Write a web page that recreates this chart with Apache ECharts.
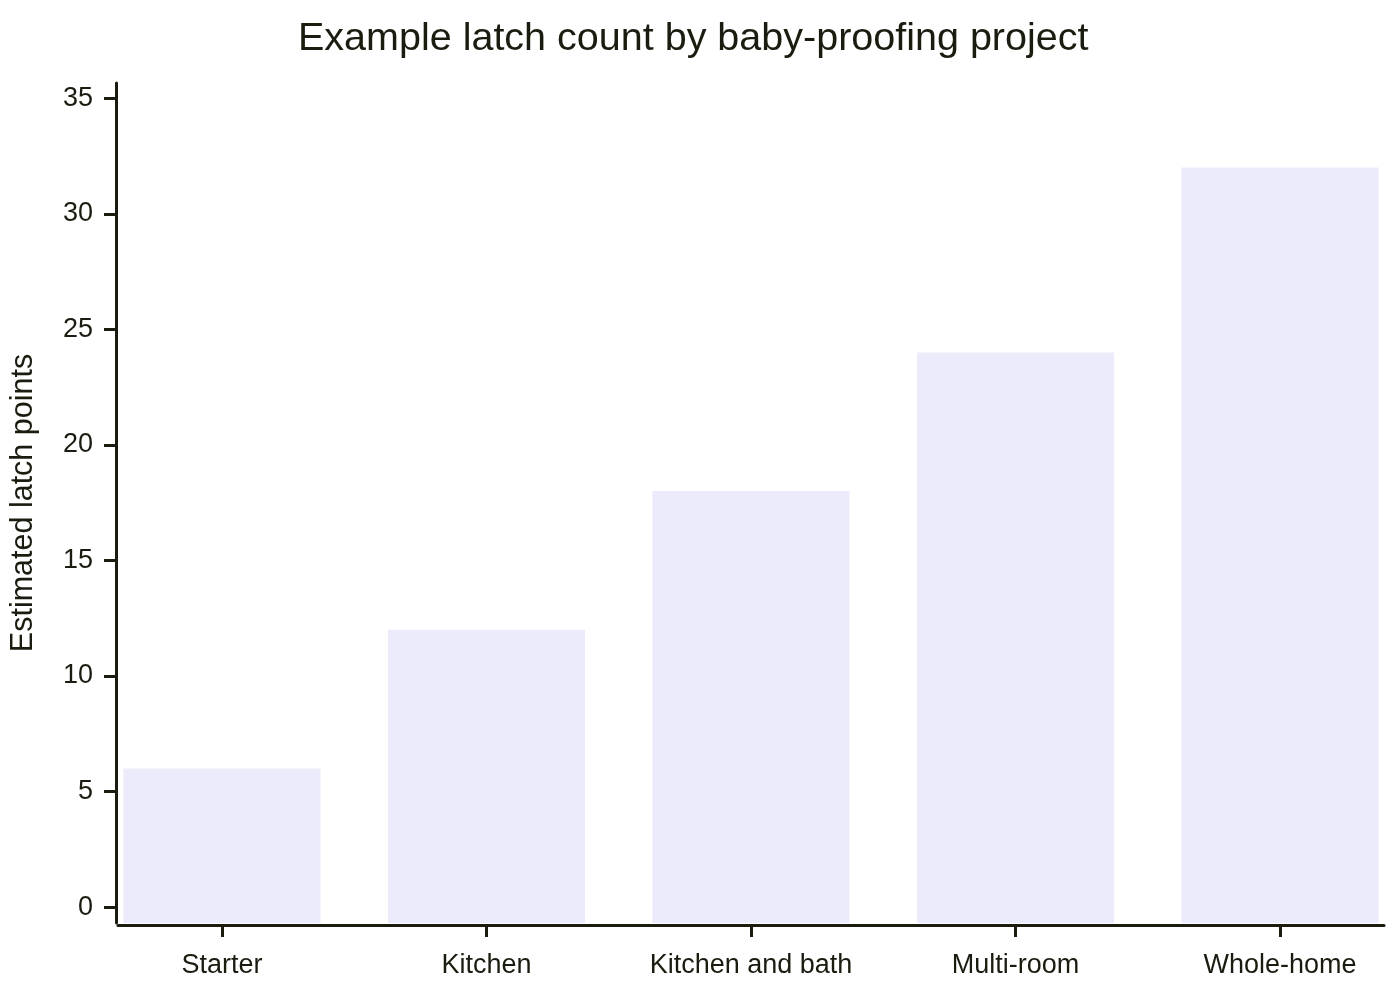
<!DOCTYPE html>
<html>
<head>
<meta charset="utf-8">
<title>Example latch count by baby-proofing project</title>
<script src="https://cdn.jsdelivr.net/npm/echarts@6/dist/echarts.min.js"></script>
<style>
  html, body { margin: 0; padding: 0; background: #fff; }
  #chart { width: 1400px; height: 1000px; }
</style>
</head>
<body>
<div id="chart"></div>
<script>
// data
const projects = ['Starter', 'Kitchen', 'Kitchen and bath', 'Multi-room', 'Whole-home'];
const latchPoints = [6, 12, 18, 24, 32];
const yTicks = [0, 5, 10, 15, 20, 25, 30, 35];

const ink = '#1b1b10';
const barColor = '#ebebfc';
const font = "'Liberation Sans', Arial, sans-serif";

const chart = echarts.init(document.getElementById('chart'));

// y range goes a bit past 0 and 35 like the original, bars sit on the axis
const yMin = -0.69;
const yMax = 35.66;
const barUnits = 0.745;

const option = {
    backgroundColor: '#fff',
    animation: false,
    textStyle: { fontFamily: font },
    title: {
        text: 'Example latch count by baby-proofing project',
        left: 293,
        top: 14,
        textStyle: { fontFamily: font, fontSize: 39.5, fontWeight: 'normal', color: ink }
    },
    grid: { left: 118, right: 16, top: 83, bottom: 77, containLabel: false, outerBoundsMode: 'none' },
    xAxis: {
        type: 'value',
        min: -0.393,
        max: 4.393,
        offset: 2,
        splitLine: { show: false },
        axisLine: { show: true, onZero: false, lineStyle: { color: ink, width: 3 } },
        axisTick: { show: true, length: 12, lineStyle: { color: ink, width: 3 }, customValues: projects.map((p, i) => i) },
        axisLabel: {
            customValues: projects.map((p, i) => i),
            formatter: v => projects[Math.round(v)] || '',
            color: ink, fontSize: 27, fontFamily: font, margin: 27
        }
    },
    yAxis: {
        type: 'value',
        min: yMin,
        max: yMax,
        offset: 2,
        name: 'Estimated latch points',
        nameLocation: 'middle',
        nameGap: 77,
        nameTextStyle: { color: ink, fontSize: 30.5, fontFamily: font },
        splitLine: { show: false },
        axisLine: { show: true, onZero: false, lineStyle: { color: ink, width: 3 } },
        axisTick: { show: true, length: 12, lineStyle: { color: ink, width: 3 }, customValues: yTicks },
        axisLabel: { customValues: yTicks, color: ink, fontSize: 27, fontFamily: font, margin: 23 }
    },
    series: [
        {
            type: 'custom',
            data: latchPoints.map((v, i) => [i, v]),
            encode: { x: 0, y: 1 },
            renderItem: function(params, api) {
                const top = api.coord([api.value(0), api.value(1)]);
                const base = api.coord([api.value(0), yMin]);
                const w = api.size([barUnits, 0])[0];
                return {
                    type: 'rect',
                    shape: { x: top[0] - w / 2, y: top[1], width: w, height: base[1] - top[1] },
                    style: { fill: barColor }
                };
            }
        }
    ]
};

chart.setOption(option);

window.addEventListener('resize', function() {
    chart.resize();
});
</script>
</body>
</html>
